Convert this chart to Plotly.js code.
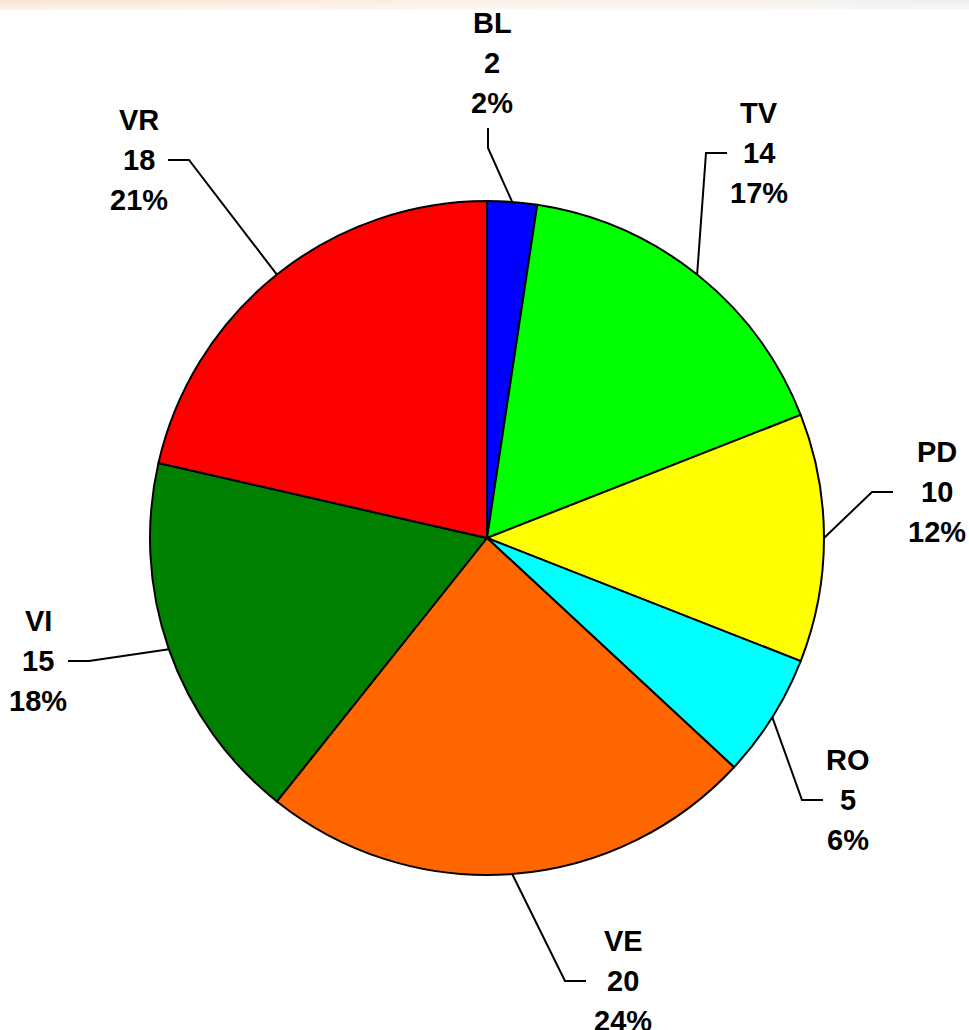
<!DOCTYPE html>
<html>
<head>
<meta charset="utf-8">
<script src="https://cdn.plot.ly/plotly-3.0.1.min.js"></script>
<style>
  html, body { margin: 0; padding: 0; background: #ffffff; }
  #wrap { position: relative; width: 969px; height: 1030px; }
  #chart { width: 969px; height: 1030px; }
  #band { position: absolute; left: 0; top: 0; width: 969px; height: 10px; pointer-events: none;
    background: linear-gradient(to bottom, rgba(255,255,255,0) 0%, rgba(255,255,255,0.6) 100%),
                linear-gradient(to right, #f8e4cf 0%, #fbeee2 45%, #f7f1ec 75%, #eeeeee 100%); }
</style>
</head>
<body>
<div id="wrap">
  <div id="chart"></div>
  <div id="band"></div>
</div>
<script>
// ---- data ----
const labels = ['BL', 'TV', 'PD', 'RO', 'VE', 'VI', 'VR'];
const values = [2, 14, 10, 5, 20, 15, 18];
const colors = ['#0000FF', '#00FF00', '#FFFF00', '#00FFFF', '#FF6600', '#008000', '#FF0000'];

// ---- layout (pixels in the 969x1030 figure) ----
const W = 969, H = 1030;
const cx = 487, cy = 538, R = 337;
// label placement: centre of the middle text line, side of leader, gap from centre to line end
const labelPlace = [
  { x: 492, y: 63,  side: 'up', gap: 0 },
  { x: 759, y: 153, side: 'right', gap: 32 },
  { x: 937, y: 492, side: 'right', gap: 44 },
  { x: 848, y: 800, side: 'right', gap: 25 },
  { x: 623, y: 981, side: 'right', gap: 37 },
  { x: 38,  y: 661, side: 'left', gap: 30 },
  { x: 139, y: 160, side: 'left', gap: 29 }
];
const lineStep = 40;
const fontSpec = { family: 'Liberation Sans, Arial, sans-serif', size: 29, color: '#000000', weight: 700 };

const px = x => x / W;
const py = y => 1 - y / H;

const total = values.reduce((a, b) => a + b, 0);
const annotations = [];
const shapes = [];
let cum = 0;
values.forEach((v, i) => {
  const mid = (cum + v / 2) / total * 2 * Math.PI;
  cum += v;
  const ex = cx + R * Math.sin(mid);
  const ey = cy - R * Math.cos(mid);
  const lp = labelPlace[i];
  let elbow, end;
  if (lp.side === 'up') {
    end = [lp.x - 4, lp.y + 65];
    elbow = [lp.x - 4, lp.y + 85];
  } else {
    const s = lp.side === 'right' ? 1 : -1;
    end = [lp.x - s * lp.gap, lp.y];
    elbow = [end[0] - s * 21, lp.y];
  }
  shapes.push({
    type: 'path', xref: 'paper', yref: 'paper',
    path: `M ${px(ex)},${py(ey)} L ${px(elbow[0])},${py(elbow[1])} L ${px(end[0])},${py(end[1])}`,
    line: { color: '#000000', width: 2 }
  });
  const pct = Math.round(v / total * 100) + '%';
  [labels[i], String(v), pct].forEach((t, k) => {
    annotations.push({
      xref: 'paper', yref: 'paper',
      x: px(lp.x), y: py(lp.y + (k - 1) * lineStep),
      xanchor: 'center', yanchor: 'middle',
      text: t, showarrow: false, font: fontSpec
    });
  });
});

const trace = {
  type: 'pie',
  labels: labels,
  values: values,
  sort: false,
  direction: 'clockwise',
  rotation: 0,
  marker: { colors: colors, line: { color: '#000000', width: 2 } },
  textinfo: 'none',
  hoverinfo: 'label+value+percent',
  domain: { x: [px(cx - R), px(cx + R)], y: [py(cy + R), py(cy - R)] }
};

const layout = {
  width: W, height: H,
  margin: { l: 0, r: 0, t: 0, b: 0 },
  paper_bgcolor: '#ffffff',
  plot_bgcolor: '#ffffff',
  showlegend: false,
  annotations: annotations,
  shapes: shapes
};

Plotly.newPlot('chart', [trace], layout, { displayModeBar: false, staticPlot: true });
</script>
</body>
</html>
